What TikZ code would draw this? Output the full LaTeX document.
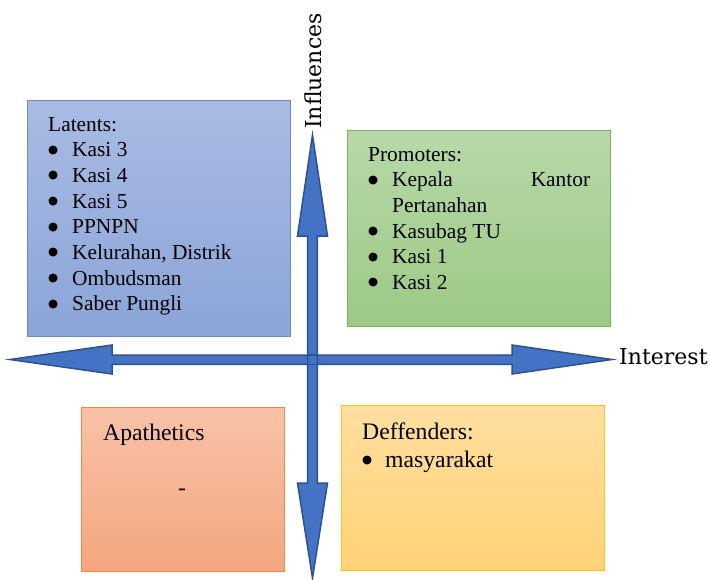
\documentclass[tikz,border=0pt]{standalone}
\usepackage{fontspec}
\setmainfont{Liberation Serif}
\newfontfamily\axisfont{DejaVu Serif}
\newfontfamily\symfont{DejaVu Sans}

% colours of the four quadrants and the axes
\definecolor{latTop}{HTML}{A9BBE3}
\definecolor{latBot}{HTML}{8BA4D8}
\definecolor{latLine}{HTML}{6A8BD0}
\definecolor{proTop}{HTML}{B8D8A9}
\definecolor{proBot}{HTML}{9CC984}
\definecolor{proLine}{HTML}{7AB45A}
\definecolor{apaTop}{HTML}{F8C2A8}
\definecolor{apaBot}{HTML}{F4A67F}
\definecolor{apaLine}{HTML}{EE8846}
\definecolor{defTop}{HTML}{FFDF9F}
\definecolor{defBot}{HTML}{FFD275}
\definecolor{defLine}{HTML}{FFC21A}
\definecolor{axisFill}{HTML}{4472C4}
\definecolor{axisLine}{HTML}{2F528F}

% a round black bullet
\newcommand{\qbullet}{\raisebox{3.6pt}{\symfont\fontsize{11.5}{11.5}\selectfont ●}}

% bullet list with the bullet flush left
\newenvironment{quadlist}[1][24pt]{%
  \begin{list}{\qbullet}{%
    \setlength{\leftmargin}{#1}\setlength{\labelwidth}{#1}%
    \setlength{\labelsep}{0pt}\setlength{\itemsep}{0pt}%
    \setlength{\parsep}{0pt}\setlength{\topsep}{0pt}%
    \setlength{\partopsep}{0pt}\setlength{\itemindent}{0pt}%
    \renewcommand{\makelabel}[1]{##1\hfil}}}%
  {\end{list}}

\tikzset{
  quadbox/.style={draw, line width=1.2pt, inner sep=0pt, anchor=north west},
  quadtext/.style={anchor=base west, inner sep=0pt, align=justify,
    font=\fontsize{21.4}{25.7}\selectfont},
  quadtextbig/.style={quadtext, font=\fontsize{23.7}{28}\selectfont},
  axis/.style={fill=axisFill, draw=axisLine, line width=1.5pt, line join=miter},
  axislabel/.style={font=\axisfont\fontsize{22}{26}\selectfont, inner sep=0pt}
}

\begin{document}
\begin{tikzpicture}[x=1pt,y=-1pt]
\useasboundingbox (0,0) rectangle (710,579);

% quadrant boxes
\node[quadbox, top color=latTop, bottom color=latBot, draw=latLine,
  minimum width=263pt, minimum height=236pt] (latents) at (27,100) {};
\node[quadbox, top color=proTop, bottom color=proBot, draw=proLine,
  minimum width=263pt, minimum height=196pt] (promoters) at (347,130) {};
\node[quadbox, top color=apaTop, bottom color=apaBot, draw=apaLine,
  minimum width=203pt, minimum height=164pt] (apathetics) at (81,407) {};
\node[quadbox, top color=defTop, bottom color=defBot, draw=defLine,
  minimum width=263pt, minimum height=165pt] (deffenders) at (341,405) {};

% horizontal axis: double-headed block arrow
\draw[axis] (10,359.5) coordinate (hl) -- (112,345) -- (112,355) -- (512,355)
  -- (512,345) -- (612,359.5) coordinate (hr) -- (512,374) -- (512,364.3)
  -- (112,364.3) -- (112,374) -- cycle;
% vertical axis: double-headed block arrow
\draw[axis] (312.5,135) coordinate (vt) -- (327.5,236) -- (317.3,236)
  -- (317.3,483) -- (327.5,483) -- (312.5,578) coordinate (vb) -- (297.5,483)
  -- (307.7,483) -- (307.7,236) -- (297.5,236) -- cycle;
% outline of the horizontal shaft where it crosses the vertical one
\draw[draw=axisLine, line width=1.5pt] (307.7,355) -- (317.3,355)
  (307.7,364.3) -- (317.3,364.3);

% axis labels
\node[axislabel, anchor=west] (interest) at (619,357) {Interest};
\node[axislabel, rotate=90] (influences) at (313.5,71) {Influences};

% quadrant contents
\node[quadtext, text width=225pt] (latentstext) at (48,131) {%
  Latents:
  \begin{quadlist}
  \item Kasi 3
  \item Kasi 4
  \item Kasi 5
  \item PPNPN
  \item Kelurahan, Distrik
  \item Ombudsman
  \item Saber Pungli
  \end{quadlist}};

\node[quadtext, text width=222pt] (promoterstext) at (368,161) {%
  \hyphenpenalty=10000 \tolerance=10000
  Promoters:
  \begin{quadlist}
  \item Kepala Kantor Pertanahan
  \item Kasubag TU
  \item Kasi 1
  \item Kasi 2
  \end{quadlist}};

\node[quadtextbig] (apatheticstext) at (103,440) {Apathetics};
\node[quadtextbig, anchor=base] (apatheticsnone) at (182,495) {-};

\node[quadtextbig, text width=230pt] (deffenderstext) at (362,439) {%
  Deffenders:
  \begin{quadlist}[23pt]
  \item masyarakat
  \end{quadlist}};
\end{tikzpicture}
\end{document}
